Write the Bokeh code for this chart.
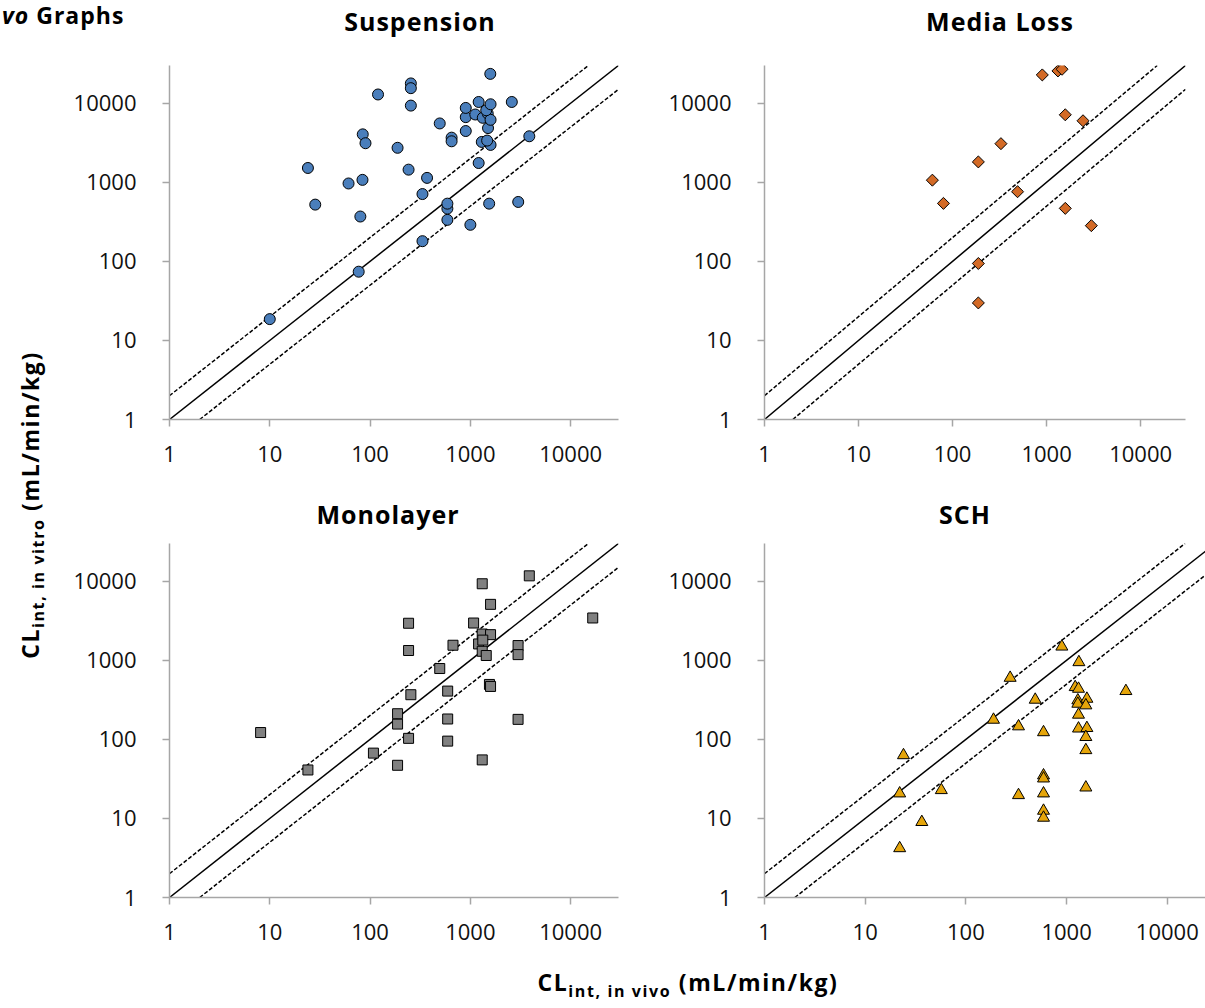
import numpy as np
from bokeh.embed import file_html
from bokeh.layouts import column, row
from bokeh.models import (Div, FixedTicker, GlobalInlineStyleSheet,
                          NumeralTickFormatter, Range1d)
from bokeh.plotting import figure
from bokeh.resources import INLINE

# ---------------------------------------------------------------- data
TICKS = [1, 10, 100, 1000, 10000]
TICK_LABELS = ["1", "10", "100", "1000", "10000"]
AXIS_MIN = 1
AXIS_MAX = 30000
FOLD = 2  # 2-fold acceptance band around the line of unity

susp_x = [10, 77, 333, 590, 590, 590, 1000, 1540, 3000, 333,
          370, 242, 1210, 3870, 1590, 1300, 1470, 1500, 900, 650,
          650, 495, 900, 900, 1120, 1330, 1490, 1590, 1440, 1210,
          1590, 2590, 1580, 255, 255, 255, 120, 188, 84.5, 90,
          24, 61, 84, 28.4, 80]
susp_y = [18.6, 74, 180, 335, 465, 537, 290, 537, 564, 710,
          1137, 1445, 1753, 3820, 2970, 3240, 3370, 4850, 4450, 3670,
          3300, 5550, 6670, 8720, 7200, 6540, 7410, 6170, 8150, 10370,
          9700, 10370, 23500, 17800, 15500, 9330, 12900, 2730, 4040, 3120,
          1517, 966, 1073, 522, 369]

media_x = [61, 80, 188, 327, 491, 188, 188, 1580, 2990, 1580, 2440, 900, 1320, 1460]
media_y = [1064, 541, 1810, 3080, 760, 94, 29.8, 468, 283, 7140, 6000, 22800, 25600, 26900]

mono_x = [8.1, 24, 108, 188, 188, 188, 242, 255, 242, 242,
          495, 594, 594, 594, 671, 1077, 1313, 1590, 3870, 16600,
          1208, 1313, 1590, 1313, 1440, 1550, 1590, 2990, 2990, 2990,
          1313, 1330]
mono_y = [122, 41, 67, 47, 156, 211, 103, 367, 1330, 2940,
          787, 408, 181, 95, 1550, 2960, 9290, 5100, 11700, 3430,
          1610, 2150, 2110, 1300, 1150, 495, 467, 1536, 1180, 179,
          55, 1800]

sch_x = [897, 1324, 275, 488, 188, 333, 590, 3880, 24, 22,
         57, 36.5, 22, 333, 590, 590, 590, 590, 590, 1553,
         1217, 1313, 1293, 1293, 1590, 1553, 1313, 1313, 1590, 1553,
         1553]
sch_y = [1490, 946, 600, 317, 177, 146, 123, 408, 63, 20.7,
         22.8, 9.0, 4.2, 19.7, 35, 32, 20.7, 12.5, 10.2, 24.6,
         458, 436, 311, 282, 326, 269, 205, 137, 139, 107,
         73]

# ---------------------------------------------------------------- style
FONT = "Open Sans"
CSS_FONT = "'Open Sans', sans-serif"
AXIS_GRAY = "#a6a6a6"


def make_panel(xs, ys, marker, size, fill, angle, width, height,
               left, right, top, bottom, x_end=AXIS_MAX):
    p = figure(width=width, height=height,
               x_axis_type="log", y_axis_type="log",
               x_range=Range1d(AXIS_MIN, x_end),
               y_range=Range1d(AXIS_MIN, AXIS_MAX),
               output_backend="svg", toolbar_location=None,
               min_border_left=left, min_border_right=right,
               min_border_top=top, min_border_bottom=bottom)
    p.grid.visible = False
    p.outline_line_color = None
    p.background_fill_color = "white"
    p.border_fill_color = "white"

    for ax in (p.xaxis[0], p.yaxis[0]):
        ax.ticker = FixedTicker(ticks=TICKS, minor_ticks=[])
        ax.formatter = NumeralTickFormatter(format="0")
        ax.major_label_overrides = dict(zip(TICKS, TICK_LABELS))
        ax.axis_line_color = AXIS_GRAY
        ax.axis_line_width = 1.5
        ax.major_tick_line_color = AXIS_GRAY
        ax.major_tick_line_width = 1.5
        ax.major_tick_in = 0
        ax.major_tick_out = 7
        ax.minor_tick_line_color = None
        ax.major_label_text_font = FONT
        ax.major_label_text_font_size = "22px"
        ax.major_label_text_color = "#111111"
    p.yaxis.major_label_standoff = 26
    p.xaxis.major_label_standoff = 19

    # line of unity and the two-fold limits
    p.line([AXIS_MIN, AXIS_MAX], [AXIS_MIN, AXIS_MAX],
           line_color="black", line_width=1.5)
    p.line([AXIS_MIN, AXIS_MAX / FOLD], [AXIS_MIN * FOLD, AXIS_MAX],
           line_color="black", line_width=1.5, line_dash="4 2")
    p.line([AXIS_MIN * FOLD, AXIS_MAX], [AXIS_MIN, AXIS_MAX / FOLD],
           line_color="black", line_width=1.5, line_dash="4 2")

    p.scatter(xs, ys, marker=marker, size=size, angle=angle,
              fill_color=fill, line_color="black", line_width=1)
    return p


susp = make_panel(susp_x, susp_y, "circle", 11, "#4a7ebb", 0,
                  570, 440, 97, 22, 25, 58)
media = make_panel(media_x, media_y, "square", 8.5, "#d36a26", np.pi / 4,
                   565, 440, 124, 20, 24, 61)
mono = make_panel(mono_x, mono_y, "square", 10, "#808080", 0,
                  570, 420, 97, 22, 13, 53)
sch = make_panel(sch_x, sch_y, "triangle", 12, "#e5a50a", 0,
                 565, 420, 124, 0, 13, 53, x_end=23950)


def centered(text, left, top, size, spacing=1):
    return (f'<span style="position:absolute;left:{left}px;top:{top}px;'
            f'transform:translateX(-50%);font-size:{size}px;line-height:1;'
            f'letter-spacing:{spacing}px;white-space:nowrap;">{text}</span>')


def box(width, height, inner):
    return (f'<div style="position:relative;width:{width}px;height:{height}px;'
            f'overflow:hidden;font-family:{CSS_FONT};font-weight:700;color:#000;">'
            f'{inner}</div>')


def text_div(width, height, inner):
    return Div(width=width, height=height, margin=0, text=box(width, height, inner))


header = text_div(1205, 40,
    '<span style="position:absolute;left:2px;top:4px;font-size:23px;line-height:1;'
    'letter-spacing:1px;white-space:nowrap;"><i>vo</i> Graphs</span>'
    + centered("Suspension", 420, 9, 25)
    + centered("Media Loss", 1000, 9, 25))

mid_band = text_div(1135, 50,
    centered("Monolayer", 318, 22, 25) + centered("SCH", 895, 22, 25))

y_title = text_div(70, 968,
    '<div style="position:absolute;left:32px;top:465px;'
    'transform:translate(-50%,-50%) rotate(-90deg);white-space:nowrap;'
    'font-size:23px;letter-spacing:1.6px;">'
    'CL<sub style="font-size:16px;">int, in vitro</sub> (mL/min/kg)</div>')

x_title = text_div(1135, 58,
    centered('CL<sub style="font-size:16px;">int, in vivo</sub> (mL/min/kg)',
             618, 21, 23, 1.6))

layout = column(
    header,
    row(y_title,
        column(row(susp, media), mid_band, row(mono, sch), x_title,
               spacing=0),
        spacing=0),
    spacing=0,
)
layout.stylesheets = [GlobalInlineStyleSheet(
    css="html, body { margin: 0; padding: 0; overflow: hidden; }")]

open("out.html", "w").write(file_html(layout, INLINE))
